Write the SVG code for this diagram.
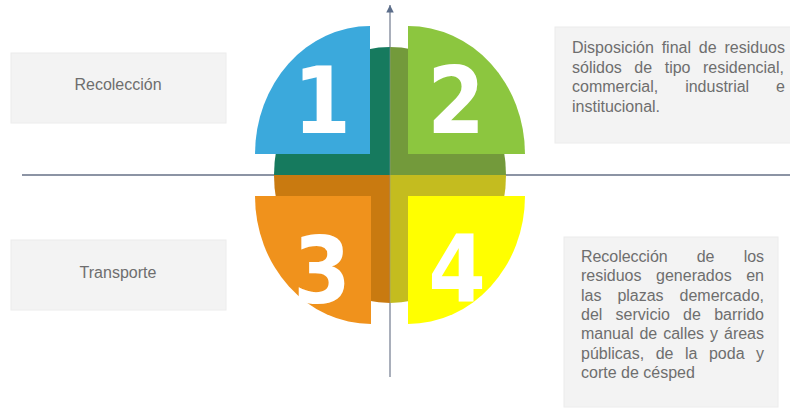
<svg xmlns="http://www.w3.org/2000/svg" width="790" height="411" viewBox="0 0 790 411">
<defs>
<style>
.box{fill:#f3f3f3;stroke:#ececec;stroke-width:1}
.t{font-family:"Liberation Sans",Arial,sans-serif;font-size:16px;fill:#6e6e6e}
.num{font-family:"DejaVu Sans Condensed","DejaVu Sans",sans-serif;font-stretch:condensed;font-weight:bold;font-size:92px;fill:#ffffff;text-anchor:middle}
.axis{stroke:#8c94a4;stroke-width:2;fill:none}
</style>
<marker id="arr" viewBox="0 0 10 10" refX="10" refY="5" markerWidth="5" markerHeight="5" orient="auto" markerUnits="strokeWidth">
<path d="M0,0 L10,5 L0,10 Z" fill="#5b6d8a"/>
</marker>
</defs>
<rect width="790" height="411" fill="#ffffff"/>
<g id="connectors">
<line class="axis" x1="22" y1="175" x2="790" y2="175"/>
<line x1="390" y1="377" x2="390" y2="5" stroke="#8c94a4" stroke-width="1.5" marker-end="url(#arr)"/>
</g>
<g id="center">
<path d="M390,175 L274,175 A116,128 0 0 1 390,47 Z" fill="#167a5e"/>
<path d="M390,175 L390,47 A116,128 0 0 1 506,175 Z" fill="#739a3b"/>
<path d="M390,175 L274,175 A116,128 0 0 0 390,303 Z" fill="#c97a10"/>
<path d="M390,175 L506,175 A116,128 0 0 1 390,303 Z" fill="#c4bc1f"/>
<line x1="390" y1="47" x2="390" y2="303" stroke="#8c94a4" stroke-width="1" opacity="0.5"/>
</g>
<g id="q1">
<path d="M370,154 L255,154 A115,128 0 0 1 370,26 Z" fill="#3ba9dc"/>
<text class="num" x="322" y="133">1</text>
</g>
<g id="q2">
<path d="M408,154 L408,26 A117,128 0 0 1 525,154 Z" fill="#8cc63f"/>
<text class="num" x="456" y="133">2</text>
</g>
<g id="q3">
<path d="M371,196 L255,196 A116,128 0 0 0 371,324 Z" fill="#f0921c"/>
<text class="num" x="322" y="303">3</text>
</g>
<g id="q4">
<path d="M408,196 L525,196 A117,128 0 0 1 408,324 Z" fill="#ffff00"/>
<text class="num" x="457" y="301">4</text>
</g>
<g id="box-recoleccion">
<rect class="box" x="11" y="53" width="215" height="70"/>
<text class="t" x="118" y="90" text-anchor="middle">Recolección</text>
</g>
<g id="box-transporte">
<rect class="box" x="11" y="240" width="215" height="70"/>
<text class="t" x="118" y="278" text-anchor="middle">Transporte</text>
</g>
<g id="box-disposicion">
<rect class="box" x="555" y="27" width="236" height="116"/>
<text class="t" x="572" y="53" word-spacing="3.4" textLength="213" lengthAdjust="spacing">Disposición final de residuos</text>
<text class="t" x="572" y="73" word-spacing="8.1" textLength="212" lengthAdjust="spacing">sólidos de tipo residencial,</text>
<text class="t" x="572" y="92" word-spacing="22.5" textLength="213" lengthAdjust="spacing">commercial, industrial e</text>
<text class="t" x="572" y="112">institucional.</text>
</g>
<g id="box-recoleccion-detalle">
<rect class="box" x="564" y="237" width="214" height="170"/>
<text class="t" x="581" y="262" word-spacing="24.8" textLength="183" lengthAdjust="spacing">Recolección de los</text>
<text class="t" x="581" y="281" word-spacing="10.1" textLength="183" lengthAdjust="spacing">residuos generados en</text>
<text class="t" x="581" y="301" word-spacing="11.5" textLength="183" lengthAdjust="spacing">las plazas demercado,</text>
<text class="t" x="581" y="320" word-spacing="8.8" textLength="183" lengthAdjust="spacing">del servicio de barrido</text>
<text class="t" x="581" y="339" word-spacing="1.5" textLength="183" lengthAdjust="spacing">manual de calles y áreas</text>
<text class="t" x="581" y="359" word-spacing="7" textLength="183" lengthAdjust="spacing">públicas, de la poda y</text>
<text class="t" x="581" y="378">corte de césped</text>
</g>
</svg>
